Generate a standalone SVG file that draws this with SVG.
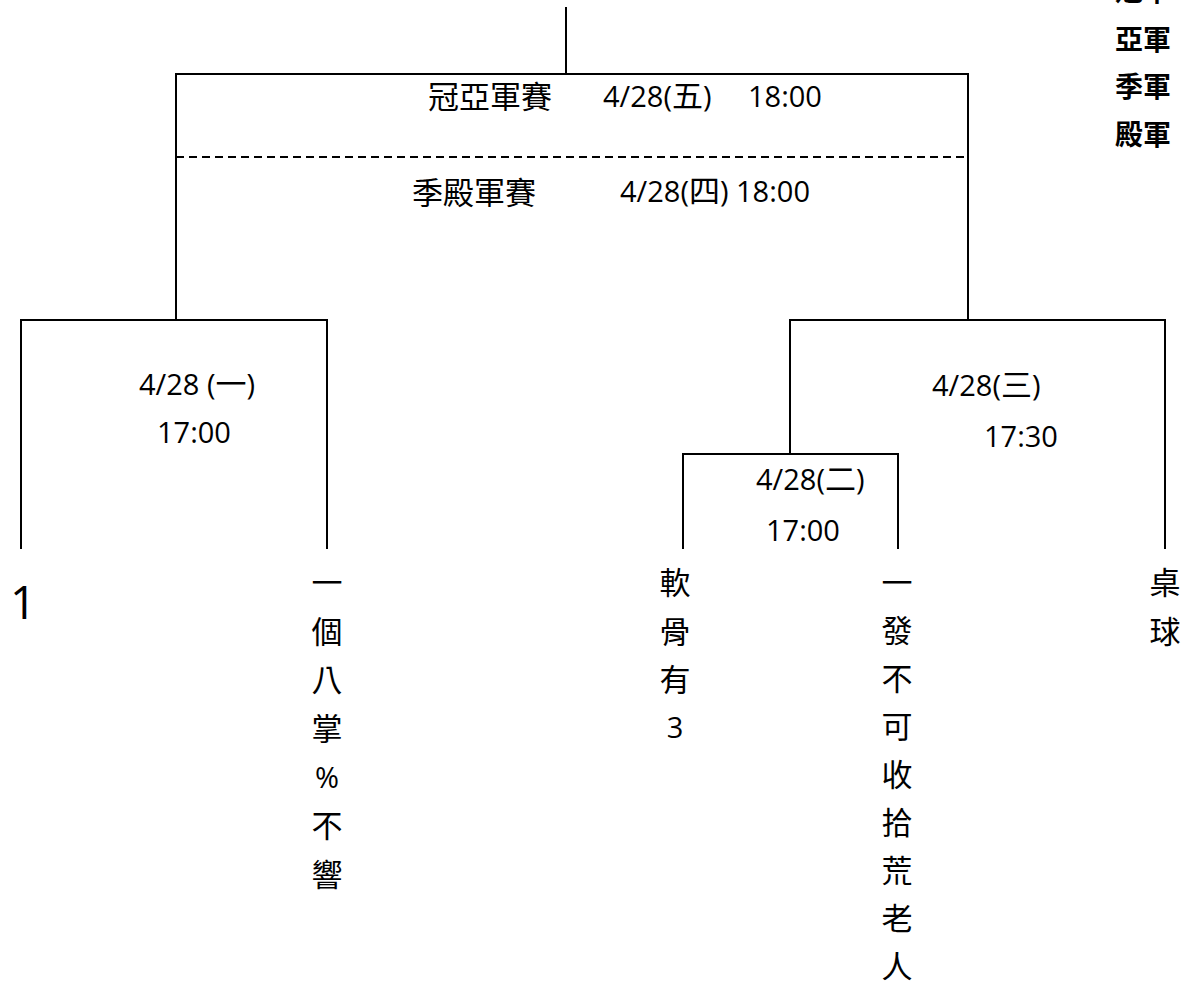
<svg xmlns="http://www.w3.org/2000/svg" width="1184" height="986" viewBox="0 0 1184 986">
<style>
.ln{stroke:#000;stroke-width:2;fill:none;stroke-linecap:square}
.dash{stroke:#000;stroke-width:2;fill:none;stroke-dasharray:8 5}
.lat{font-family:"Open Sans","Noto Sans CJK TC",sans-serif;font-size:29px;fill:#000}
.cj{font-family:"Noto Sans CJK TC",sans-serif;font-size:31px;fill:#000}
.v{font-family:"Noto Sans CJK TC",sans-serif;font-size:31px;fill:#000;text-anchor:middle}
.vl{font-family:"Open Sans",sans-serif;font-size:29px;fill:#000;text-anchor:middle}
.rank{font-family:"Noto Sans CJK TC",sans-serif;font-size:28px;font-weight:700;fill:#000}
</style>
<rect width="1184" height="986" fill="#fff"/>
<g id="connectors">
<path class="ln" d="M566 8V74M176 74H968M176 74V320M968 74V320"/>
<path class="dash" d="M176 157H968"/>
<path class="ln" d="M21 548V320H327V548"/>
<path class="ln" d="M790 454V320H1165V548"/>
<path class="ln" d="M683 548V454H898V548"/>
</g>
<g id="legend">
<text class="rank" x="1115" y="1">冠軍</text>
<text class="rank" x="1115" y="50">亞軍</text>
<text class="rank" x="1115" y="97">季軍</text>
<text class="rank" x="1115" y="145">殿軍</text>
</g>
<g id="match-final">
<text class="cj" x="428" y="108">冠亞軍賽</text>
<text class="lat" x="603" y="107">4/28(<tspan class="cj">五</tspan>)</text>
<text class="lat" x="748" y="107">18:00</text>
</g>
<g id="match-third">
<text class="cj" x="412" y="204">季殿軍賽</text>
<text class="lat" x="620" y="202">4/28(<tspan class="cj">四</tspan>) 18:00</text>
</g>
<g id="match-1">
<text class="lat" x="139" y="395">4/28 (<tspan class="cj">一</tspan>)</text>
<text class="lat" x="157" y="443">17:00</text>
</g>
<g id="match-2">
<text class="lat" x="756" y="490">4/28(<tspan class="cj">二</tspan>)</text>
<text class="lat" x="766" y="541">17:00</text>
</g>
<g id="match-3">
<text class="lat" x="932" y="396">4/28(<tspan class="cj">三</tspan>)</text>
<text class="lat" x="984" y="447">17:30</text>
</g>
<g id="team-1">
<text class="lat" x="10" y="619" style="font-size:46px">1</text>
</g>
<g id="team-2">
<text class="v" x="327" y="594">一</text>
<text class="v" x="327" y="643">個</text>
<text class="v" x="327" y="691">八</text>
<text class="v" x="327" y="740">掌</text>
<text class="vl" x="327" y="788">%</text>
<text class="v" x="327" y="837">不</text>
<text class="v" x="327" y="886">響</text>
</g>
<g id="team-3">
<text class="v" x="675" y="594">軟</text>
<text class="v" x="675" y="643">骨</text>
<text class="v" x="675" y="691">有</text>
<text class="vl" x="675" y="738">3</text>
</g>
<g id="team-4">
<text class="v" x="897" y="594">一</text>
<text class="v" x="897" y="642">發</text>
<text class="v" x="897" y="690">不</text>
<text class="v" x="897" y="738">可</text>
<text class="v" x="897" y="786">收</text>
<text class="v" x="897" y="834">拾</text>
<text class="v" x="897" y="882">荒</text>
<text class="v" x="897" y="930">老</text>
<text class="v" x="897" y="978">人</text>
</g>
<g id="team-5">
<text class="v" x="1165" y="594">桌</text>
<text class="v" x="1165" y="643">球</text>
</g>
</svg>
